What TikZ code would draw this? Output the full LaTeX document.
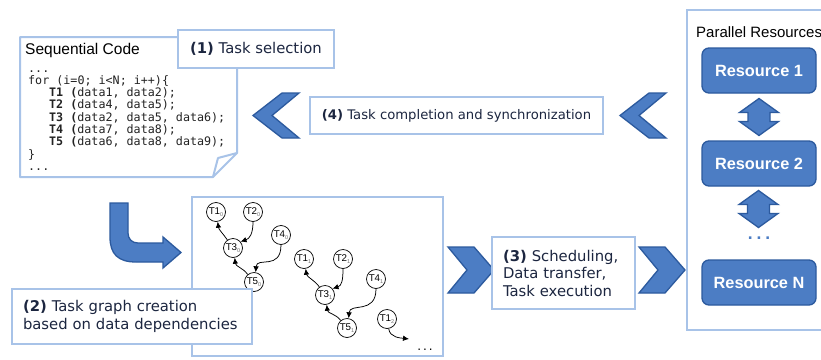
\documentclass[tikz,border=0pt]{standalone}
\usepackage{fontspec}
\setmainfont{DejaVu Sans}
\newfontfamily\arialf{Liberation Sans}
\newfontfamily\monof{DejaVu Sans Mono}
\usetikzlibrary{arrows.meta,calc}

\definecolor{paleblue}{RGB}{168,195,232}
\definecolor{chevfill}{RGB}{76,125,196}
\definecolor{chevline}{RGB}{44,90,158}
\definecolor{navytext}{RGB}{28,38,64}
\definecolor{codegray}{RGB}{35,35,35}
\definecolor{subgray}{RGB}{110,110,110}

% left-pointing chevron, tip at #1
\newcommand\chevleft[1]{%
  \draw[chev] (#1) -- ++(29,-22.5) -- ++(17,0) -- ++(-27,22.5) -- ++(27,22.5) -- ++(-17,0) -- cycle;}
% right-pointing chevron, tip at #1
\newcommand\chevright[1]{%
  \draw[chev] (#1) -- ++(-20,-23) -- ++(-26,0) -- ++(19,23) -- ++(-19,23) -- ++(26,0) -- cycle;}
% vertical double arrow centred at #1
\newcommand\dblarrow[1]{%
  \draw[chev] (#1) ++(0,-18.5) -- ++(19.5,14) -- ++(-8.5,0) -- ++(0,9) -- ++(8.5,0)
    -- ++(-19.5,14) -- ++(-19.5,-14) -- ++(8.5,0) -- ++(0,-9) -- ++(-8.5,0) -- cycle;}
% task label with a small grey index
\newcommand\tsub[1]{\raisebox{-1.6pt}{\color{subgray}\fontsize{5.5}{5.5}\selectfont#1}}

\begin{document}
\begin{tikzpicture}[x=1pt,y=-1pt,
  paleline/.style={draw=paleblue, line width=2pt},
  labelbox/.style={paleline, fill=white, text=navytext, inner sep=0pt,
    font=\fontsize{14.8}{17.5}\selectfont},
  chev/.style={fill=chevfill, draw=chevline, line width=1.3pt, line join=miter},
  resbox/.style={rounded corners=7pt, fill=chevfill, draw=chevline, line width=1.3pt,
    minimum width=114pt, minimum height=45pt, text=white,
    font=\arialf\bfseries\fontsize{16.3}{18}\selectfont},
  codeline/.style={anchor=base west, inner sep=0pt, text=codegray,
    font=\monof\fontsize{11.7}{12}\selectfont},
  tnode/.style={circle, draw, line width=0.7pt, minimum size=19pt, inner sep=0pt,
    fill=white, font=\arialf\fontsize{9.8}{10}\selectfont},
  tarrow/.style={-{Latex[length=6pt,width=5.5pt]}, line width=0.75pt},
]
\useasboundingbox (0,0) rectangle (821,359);
\fill[white] (0,0) rectangle (821,359);

% ---------- sequential code sheet ----------
\draw[paleline, fill=white, line join=round]
  (20,37) -- (237,37) -- (237,153) -- (213,177) -- (20,177) -- cycle;
\draw[paleline, line join=round] (237,153) -- (218,158) -- (213,177);
\node[anchor=base west, inner sep=0pt, font=\arialf\fontsize{15.5}{16}\selectfont]
  (seqtitle) at (25,54) {Sequential Code};
\node[codeline] (c1) at (28,72)    {...};
\node[codeline] (c2) at (28,84.3)  {for (i=0; i<N; i++)\{};
\node[codeline] (c3) at (49,96.6)  {\textbf{T1 (}data1, data2);};
\node[codeline] (c4) at (49,108.9) {\textbf{T2 (}data4, data5);};
\node[codeline] (c5) at (49,121.2) {\textbf{T3 (}data2, data5, data6);};
\node[codeline] (c6) at (49,133.5) {\textbf{T4 (}data7, data8);};
\node[codeline] (c7) at (49,145.8) {\textbf{T5 (}data6, data8, data9);};
\node[codeline] (c8) at (28,158.1) {\}};
\node[codeline] (c9) at (28,170.4) {...};

% step (1)
\node[labelbox, minimum width=156pt, minimum height=38pt] (sel) at (256,49)
  {\textbf{(1)} Task selection};

% step (4) with its chevrons
\chevleft{253,115.5}
\node[labelbox, minimum width=293pt, minimum height=37pt,
  font=\fontsize{13.2}{15}\selectfont] (sync) at (456.5,115.5)
  {\textbf{(4)} Task completion and synchronization};
\chevleft{620,115.5}

% bent arrow from the code to the graph
\draw[chev, line join=miter]
  (110,203) -- (110,237) .. controls (110,254) and (118,262) .. (136,262)
  -- (163,262) -- (163,268) -- (181,252.5) -- (163,237) -- (163,243)
  -- (138,243) .. controls (132,243) and (128,239) .. (128,233) -- (128,203) -- cycle;

% ---------- task graph ----------
\draw[paleline, fill=white] (192,197) rectangle (443,356);
\node[tnode] (t10) at (216,212) {T1\tsub{0}};
\node[tnode] (t20) at (253,212) {T2\tsub{0}};
\node[tnode] (t30) at (233,248) {T3\tsub{0}};
\node[tnode] (t40) at (281,235) {T4\tsub{0}};
\node[tnode] (t50) at (254,282) {T5\tsub{0}};
\node[tnode] (t11) at (304,259) {T1\tsub{1}};
\node[tnode] (t21) at (343,259) {T2\tsub{1}};
\node[tnode] (t31) at (325,295) {T3\tsub{1}};
\node[tnode] (t41) at (376,279) {T4\tsub{1}};
\node[tnode] (t51) at (347,328) {T5\tsub{1}};
\node[tnode] (t12) at (387,319) {T1\tsub{2}};
\coordinate (e12) at (409,339);

\draw[tarrow] (t30.125) .. controls +(-4,-6) and +(1,8) .. (t10.-80);
\draw[tarrow] (t20.-90) .. controls +(0,12) and +(9,-3) .. (t30.40);
\draw[tarrow] (t50.130) .. controls +(-5,-7) and +(1,9) .. (t30.-80);
\draw[tarrow] (t40.-90) .. controls +(0,26) and +(1,-16) .. (t50.80);
\draw[tarrow] (t31.125) .. controls +(-4,-6) and +(1,8) .. (t11.-80);
\draw[tarrow] (t21.-90) .. controls +(0,12) and +(9,-3) .. (t31.40);
\draw[tarrow] (t51.130) .. controls +(-5,-7) and +(1,9) .. (t31.-80);
\draw[tarrow] (t41.-90) .. controls +(0,26) and +(1,-16) .. (t51.80);
\draw[tarrow] (t12.-80) .. controls +(1,9) and +(-8,-1) .. (e12);
\node[inner sep=0pt, font=\fontsize{12}{12}\selectfont] (gdots) at (425,350) {.\hspace{2pt}.\hspace{2pt}.};

% step (2)
\node[labelbox, minimum width=240pt, minimum height=55pt, text width=218pt,
  inner xsep=11pt, align=left] (graphlbl) at (132,316.5)
  {\textbf{(2)} Task graph creation\\based on data dependencies};

% step (3) with its chevrons
\chevright{494,270}
\node[labelbox, minimum width=143pt, minimum height=72pt, text width=121pt,
  inner xsep=11pt, align=left] (sched) at (563.5,273)
  {\textbf{(3)} Scheduling,\\Data transfer,\\Task execution};
\chevright{685,270}

% ---------- parallel resources ----------
\draw[paleline, fill=white] (687,10) rectangle (840,330);
\node[anchor=base west, inner sep=0pt, font=\arialf\fontsize{15}{16}\selectfont]
  (restitle) at (696,37) {Parallel Resources};
\node[resbox] (r1) at (759,70.5) {Resource 1};
\node[resbox] (r2) at (759,163.5) {Resource 2};
\node[resbox] (rn) at (759,282.5) {Resource N};
\dblarrow{$(r1.south)!0.5!(r2.north)$}
\dblarrow{758.5,209}
\node[inner sep=0pt, text=chevfill, font=\bfseries\fontsize{14}{14}\selectfont]
  (rdots) at (759,238) {.\hspace{3.5pt}.\hspace{3.5pt}.};
\end{tikzpicture}
\end{document}
